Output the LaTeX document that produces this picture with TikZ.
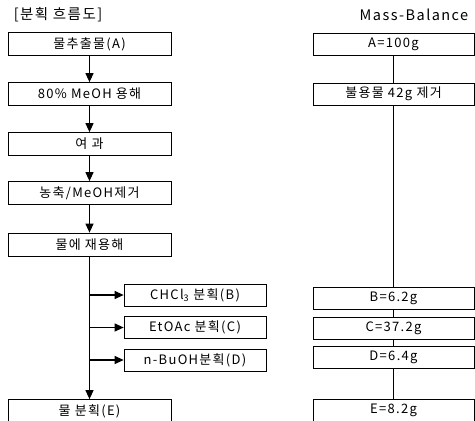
\documentclass[tikz,border=0pt]{standalone}
\usepackage{fontspec}
\setmainfont[LetterSpace=10]{Noto Sans CJK KR}
\usetikzlibrary{arrows.meta}

\begin{document}
\begin{tikzpicture}[x=1pt,y=-1pt,line width=0.7pt,font=\fontsize{13}{15}\selectfont]
\tikzstyle{stage}=[draw, rectangle, minimum width=163pt, minimum height=23pt, inner sep=0pt]
\tikzstyle{part}=[draw, rectangle, minimum width=142pt, minimum height=22pt, inner sep=0pt]
\tikzstyle{mass}=[draw, rectangle, minimum width=161pt, minimum height=22pt, inner sep=0pt]
\tikzstyle{flow}=[-{Triangle[length=9pt,width=8pt]}, line width=1.1pt]

\useasboundingbox (0,0) rectangle (475,421);
\clip (0,0) rectangle (475,421);

% titles
\node[font=\fontsize{14.5}{16}\selectfont] (T1) at (58,15) {[분획 흐름도]};
\node[font=\fontsize{14.5}{16}\selectfont] (T2) at (414,15) {Mass-Balance};

% fractionation scheme
\node[stage] (A) at (89.5,44) {물추출물(A)};
\node[stage] (S) at (89.5,94) {80\% MeOH 용해};
\node[stage] (F) at (89.5,144) {여 과};
\node[stage] (K) at (89.5,193) {농축/MeOH제거};
\node[stage] (R) at (89.5,244.5) {물에 재용해};
\node[part] (B) at (195,295) {CHCl\textsubscript{3} 분획(B)};
\node[part] (C) at (195,327.5) {EtOAc 분획(C)};
\node[part] (D) at (195,360) {n-BuOH분획(D)};
\node[stage] (E) at (89.5,411) {물 분획(E)};

\draw[flow] (A) -- (S);
\draw[flow] (S) -- (F);
\draw[flow] (F) -- (K);
\draw[flow] (K) -- (R);
\draw[flow] (R) -- (E);
\draw[flow] (R.south |- B.west) -- (B.west);
\draw[flow] (R.south |- C.west) -- (C.west);
\draw[flow] (R.south |- D.west) -- (D.west);

% mass balance
\node[mass] (mA) at (393.5,44) {A=100g};
\node[mass] (mI) at (393.5,94) {불용물 42g 제거};
\node[mass] (mB) at (393.5,298) {B=6.2g};
\node[mass] (mC) at (393.5,328) {C=37.2g};
\node[mass] (mD) at (393.5,357) {D=6.4g};
\node[mass] (mE) at (393.5,410) {E=8.2g};

\draw (mA) -- (mI) -- (mB) -- (mC) -- (mD) -- (mE);
\end{tikzpicture}
\end{document}
